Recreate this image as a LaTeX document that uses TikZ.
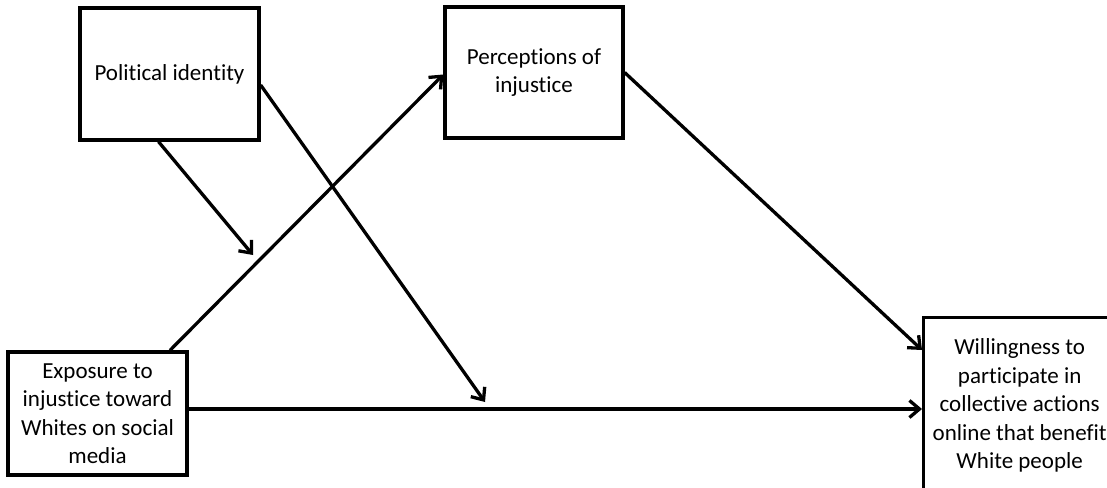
\documentclass[tikz,border=0pt]{standalone}
\usepackage{fontspec}
\setmainfont{Carlito}[Ligatures=NoCommon]
\usetikzlibrary{arrows.meta}
\begin{document}
\begin{tikzpicture}[x=1pt,y=-1pt,
  box/.style={draw=black,line width=3.3pt,fill=white,align=center,inner sep=0pt,
    font=\fontsize{23}{28.5}\selectfont},
  conn/.style={line width=3.3pt,-{Straight Barb[length=10pt,width=17pt,line width=3.3pt]}}]
\useasboundingbox (0,0) rectangle (1107,487);
\clip (0,0) rectangle (1107,487);
\fill[white] (0,0) rectangle (1107,487);
\node[box,minimum width=179pt,minimum height=132pt] (pol) at (169.5,74) {\raisebox{-3pt}{Political identity}};
\node[box,minimum width=178pt,minimum height=131pt] (perc) at (534,72.5) {Perceptions of\\injustice};
\node[box,minimum width=179pt,minimum height=123pt] (expo) at (97.5,413.5) {Exposure to\\injustice toward\\Whites on social\\media};
\node[box,minimum width=192pt,minimum height=176pt,anchor=north west] (will) at (922,316) {Willingness to\\participate in\\collective actions\\online that benefit\\White people};
\coordinate (m1) at (253,255);
\coordinate (m2) at (485,402);
\draw[conn] ([xshift=72.5pt]expo.north) -- ([yshift=-2pt]perc.west);
\draw[conn] ([xshift=-11pt]pol.south) -- (m1);
\draw[conn] ([yshift=-11pt]pol.east) -- (m2);
\draw[conn] (perc.east) -- ([yshift=-34pt]will.north west);
\draw[conn] (expo.east |- 0,409) -- (will.west |- 0,409);
\end{tikzpicture}
\end{document}
